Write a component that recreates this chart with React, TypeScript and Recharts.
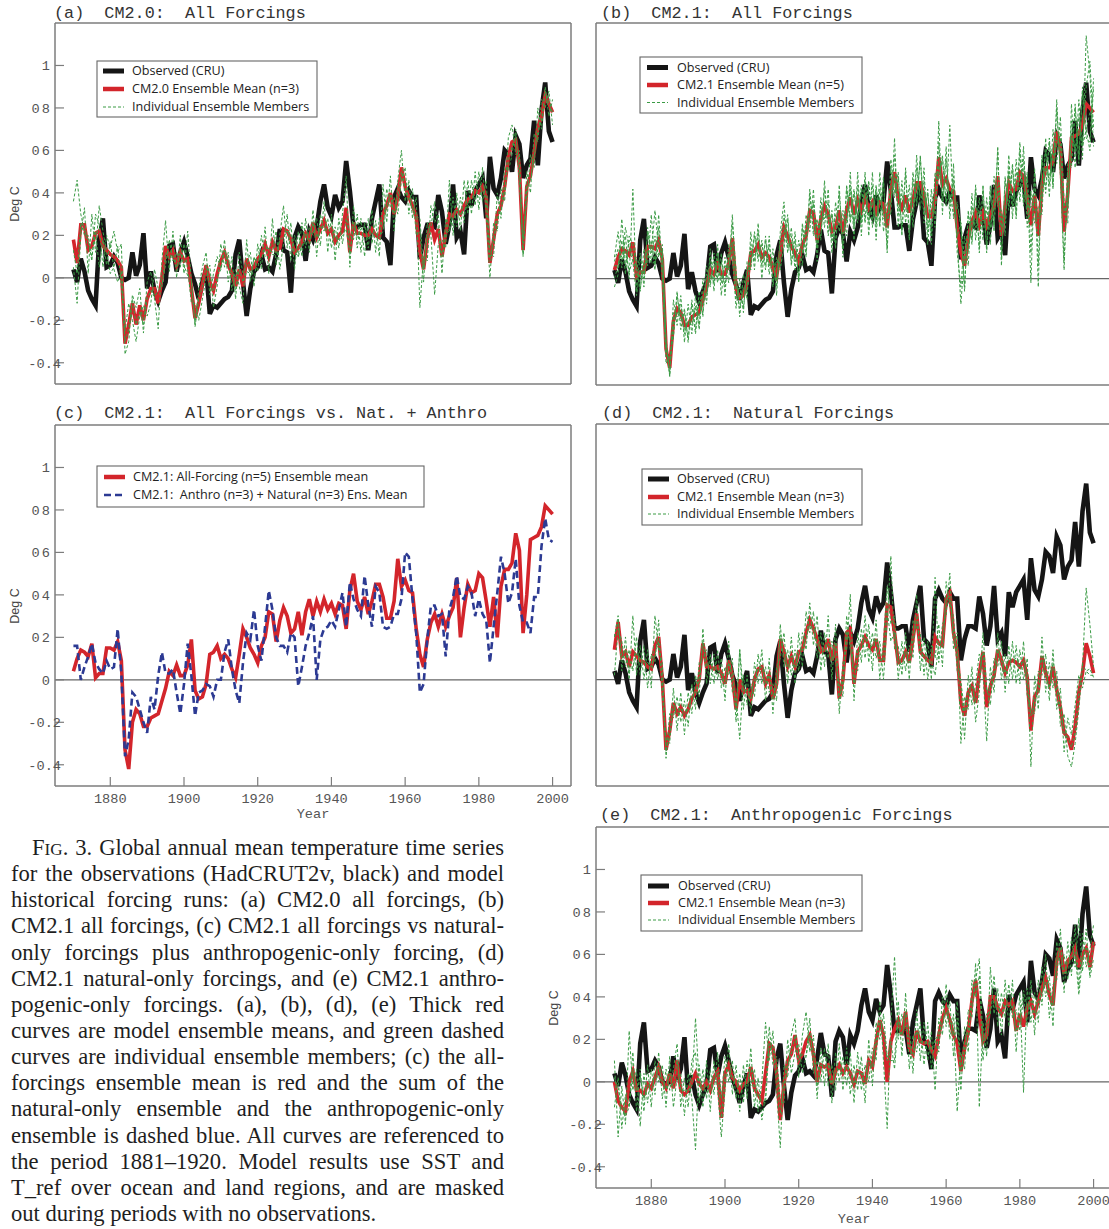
import React from 'react';
import { LineChart, Line, XAxis, YAxis, ReferenceLine } from 'recharts';

// ---------- axes / categories ----------
const START_YEAR = 1870;
const X_DOMAIN: [number, number] = [1865, 2005];
const X_MAJOR = [1880, 1900, 1920, 1940, 1960, 1980, 2000];
const X_MINOR = [1870, 1890, 1910, 1930, 1950, 1970, 1990];
const Y_DOMAIN: [number, number] = [-0.5, 1.2];
const Y_MAJOR = [-0.4, -0.2, 0, 0.2, 0.4, 0.6, 0.8, 1];
const Y_LABELS = ['-0.4', '-0.2', '0', '0 2', '0 4', '0 6', '0 8', '1'];
const Y_MINOR = [-0.3, -0.1, 0.1, 0.3, 0.5, 0.7, 0.9, 1.1];
const Y_ALL = [-0.4, -0.3, -0.2, -0.1, 0, 0.1, 0.2, 0.3, 0.4, 0.5, 0.6, 0.7, 0.8, 0.9, 1, 1.1];

// ---------- series (1870..2000) ----------
const OBS = [
  0.04, -0.02, 0.09, 0.03, -0.06, -0.10, -0.13, 0.18, 0.28, 0.05,
  0.06, 0.10, 0.07, 0.00, -0.01, 0.00, 0.12, 0.01, 0.06, 0.21,
  -0.05, 0.03, -0.06, -0.11, -0.06, -0.02, 0.15, 0.16, 0.03, 0.12,
  0.17, 0.10, 0.02, -0.03, -0.10, -0.02, 0.04, -0.17, -0.13, -0.14,
  -0.12, -0.10, -0.09, -0.06, 0.11, 0.18, -0.02, -0.18, -0.05, 0.03,
  0.05, 0.11, 0.04, 0.05, 0.03, 0.11, 0.23, 0.13, 0.12, -0.07,
  0.19, 0.24, 0.21, 0.08, 0.22, 0.18, 0.24, 0.36, 0.44, 0.33,
  0.29, 0.39, 0.33, 0.36, 0.55, 0.41, 0.24, 0.24, 0.25, 0.25,
  0.13, 0.28, 0.36, 0.44, 0.19, 0.17, 0.06, 0.38, 0.42, 0.38,
  0.36, 0.41, 0.38, 0.38, 0.09, 0.19, 0.25, 0.25, 0.24, 0.39,
  0.31, 0.16, 0.25, 0.44, 0.19, 0.22, 0.11, 0.41, 0.34, 0.41,
  0.44, 0.47, 0.28, 0.57, 0.42, 0.39, 0.47, 0.60, 0.58, 0.50,
  0.67, 0.63, 0.47, 0.53, 0.56, 0.74, 0.53, 0.79, 0.92, 0.69,
  0.64,
];

// (a) CM2.0 all forcings
const A_MEAN = [
  .18, .07, .25, .25, .13, .15, .21, .22, .15, .13,
  .11, .10, .08, .05, -.31, -.22, -.12, -.22, -.13, -.20,
  -.10, -.05, -.05, -.12, .00, .15, .10, .13, .06, .12,
  .08, .09, -.05, -.19, -.12, -.03, .06, -.02, -.06, .02,
  .08, .12, .06, .02, -.04, .04, -.04, .09, .04, .05,
  .09, .11, .16, .10, .17, .13, .14, .23, .22, .18,
  .12, .14, .17, .21, .18, .26, .19, .23, .27, .21,
  .23, .17, .20, .22, .33, .12, .26, .21, .21, .20,
  .20, .23, .20, .19, .30, .34, .40, .30, .38, .52,
  .43, .38, .34, .29, .12, .04, .18, .26, .18, .23,
  .10, .21, .30, .29, .32, .30, .34, .37, .38, .41,
  .40, .43, .38, .07, .18, .30, .34, .43, .57, .64,
  .65, .52, .13, .43, .48, .59, .71, .76, .86, .82,
  .78,
];
const A_M1 = [
  .36, .46, .30, .22, .18, .08, .30, .25, .05, .20,
  .14, .22, .12, .16, -.36, -.30, -.08, -.14, -.05, -.26,
  -.02, .03, -.10, -.24, .08, .27, .03, .22, .00, .20,
  .02, .22, -.02, -.22, -.05, .05, .12, -.08, .02, .10,
  .04, .18, -.02, .10, -.10, .12, .02, .06, .12, -.04,
  .16, .04, .24, .02, .28, .06, .20, .34, .14, .26,
  .04, .22, .10, .28, .12, .32, .10, .30, .22, .28,
  .14, .24, .14, .30, .48, .05, .34, .14, .28, .10,
  .28, .16, .27, .10, .44, .26, .48, .22, .46, .60,
  .36, .46, .28, .38, -.14, .10, .08, .34, .26, .30,
  .02, .28, .22, .38, .24, .38, .26, .46, .30, .50,
  .32, .52, .30, .00, .26, .22, .42, .36, .66, .72,
  .58, .60, .10, .50, .40, .68, .64, .84, .80, .88,
  .72,
];
const A_M2 = [
  .05, -.12, .20, .33, .02, .30, .12, .34, .22, .12,
  .02, .05, .15, -.04, -.25, -.12, -.20, -.30, -.18, -.13,
  -.18, -.12, .04, -.05, -.04, .06, .18, .08, .12, .05,
  .16, .04, -.12, -.12, -.20, -.10, .00, .06, -.14, -.04,
  .16, .05, .12, -.06, .04, -.04, -.12, .18, -.02, .10,
  .03, .20, .10, .14, .12, .22, .04, .16, .30, .08,
  .20, .10, .26, .14, .24, .20, .28, .15, .36, .12,
  .30, .08, .28, .16, .28, .20, .18, .30, .12, .26,
  .14, .32, .12, .28, .24, .42, .33, .38, .30, .46,
  .52, .30, .42, .20, .22, -.02, .26, .20, -.08, .16,
  .18, .14, .46, .20, .40, .22, .46, .30, .46, .34,
  .50, .36, .46, .12, .10, .40, .28, .52, .50, .58,
  .70, .44, .18, .36, .58, .52, .80, .70, .90, .76,
  .84,
];
const A_M3 = [
  .13, .02, .26, .20, .20, .10, .22, .05, .18, .06,
  .17, .04, -.02, .03, -.30, -.24, -.10, -.22, -.16, -.22,
  -.10, -.06, -.09, -.06, -.04, .12, .09, .10, .05, .12,
  .06, .01, -.01, -.23, -.10, -.04, .06, -.04, -.06, .00,
  .04, .13, .08, .02, -.06, .04, -.02, .03, .02, .09,
  .08, .09, .14, .14, .11, .11, .18, .19, .22, .20,
  .12, .10, .15, .21, .18, .26, .19, .24, .23, .23,
  .25, .19, .18, .20, .23, .11, .26, .19, .23, .24,
  .18, .21, .21, .19, .22, .34, .39, .30, .38, .50,
  .41, .38, .32, .29, .28, .04, .20, .24, .36, .23,
  .10, .21, .22, .29, .32, .30, .30, .35, .38, .39,
  .38, .41, .38, .09, .18, .28, .32, .41, .55, .62,
  .67, .52, .11, .43, .46, .57, .69, .74, .88, .82,
  .78,
];

// (b) CM2.1 all forcings (also the red curve of panel c)
const B_MEAN = [
  .04, .10, .14, .13, .11, .17, .01, .03, .03, .15,
  .15, .14, .18, .09, -.33, -.42, -.20, -.14, -.16, -.22,
  -.22, -.18, -.17, -.16, -.10, -.04, .04, .02, .07, .02,
  .02, .07, .19, -.05, -.09, -.08, -.02, .12, .13, .16,
  .10, .12, .10, .05, .01, .12, .24, .20, .15, .12,
  .08, .16, .20, .32, .31, .18, .28, .34, .30, .22,
  .24, .32, .21, .32, .38, .30, .37, .32, .38, .33,
  .36, .31, .36, .35, .24, .42, .50, .37, .33, .39,
  .31, .37, .45, .45, .39, .29, .29, .37, .57, .44,
  .47, .42, .41, .24, .12, .06, .19, .27, .31, .25,
  .31, .25, .30, .34, .48, .20, .34, .45, .41, .42,
  .50, .48, .37, .25, .39, .20, .44, .52, .52, .55,
  .69, .61, .22, .40, .66, .67, .68, .72, .82, .80,
  .78,
];
const B_M1 = [
  .10, .22, .05, .20, .00, .42, -.06, .12, -.04, .24,
  .08, .20, .10, .16, -.28, -.46, -.10, -.22, -.08, -.30,
  -.12, -.26, -.08, -.24, .00, -.12, .14, -.06, .16, -.08,
  .10, -.02, .26, .04, -.18, .02, -.10, .22, .04, .26,
  .00, .20, .02, .14, -.08, .22, .36, .12, .24, .04,
  .18, .06, .30, .22, .42, .08, .38, .24, .42, .12,
  .36, .22, .32, .20, .50, .18, .50, .20, .50, .20,
  .50, .18, .50, .22, .36, .30, .66, .24, .46, .26,
  .44, .24, .58, .32, .52, .16, .42, .24, .74, .30,
  .62, .28, .54, .12, -.04, .20, .06, .40, .18, .38,
  .18, .38, .16, .48, .34, .32, .20, .58, .28, .56,
  .36, .62, .24, .40, .26, .34, .30, .66, .38, .70,
  .54, .76, .36, .26, .82, .52, .84, .56, 1.14, .96,
  .62,
];
const B_M2 = [
  -.04, .02, .28, .06, .18, .10, .10, -.06, .14, .06,
  .30, .06, .24, .00, -.40, -.36, -.28, -.06, -.24, -.14,
  -.30, -.10, -.24, -.06, -.18, .06, -.04, .12, .00, .12,
  -.08, .16, .12, -.14, .00, -.16, .08, .04, .22, .08,
  .18, .04, .20, -.04, .10, .04, .16, .30, .06, .22,
  -.02, .26, .12, .42, .22, .28, .18, .46, .20, .32,
  .14, .44, .10, .44, .28, .42, .26, .44, .28, .46,
  .24, .44, .26, .48, .12, .56, .40, .50, .20, .52,
  .18, .50, .34, .58, .26, .42, .16, .50, .46, .58,
  .34, .72, .28, .36, .24, -.06, .32, .16, .44, .12,
  .44, .12, .42, .22, .62, .06, .48, .32, .54, .30,
  .64, .36, .50, .12, .52, .06, .58, .40, .66, .42,
  .84, .48, .08, .54, .52, .82, .54, .88, .66, .64,
  .94,
];
const B_M3 = [
  .08, .14, .10, .24, .14, .08, -.08, .04, .00, .22,
  .12, .32, .14, .12, -.30, -.44, -.16, -.18, -.12, -.26,
  -.20, -.20, -.14, -.22, -.06, -.08, .10, -.02, .12, .00,
  .06, .04, .30, -.02, -.14, -.04, -.06, .16, .08, .22,
  .06, .18, .06, .10, -.04, .18, .30, .16, .20, .08,
  .12, .12, .26, .28, .36, .14, .34, .28, .36, .18,
  .30, .28, .28, .26, .44, .24, .44, .26, .46, .26,
  .44, .24, .42, .28, .30, .36, .58, .30, .40, .32,
  .38, .30, .52, .38, .46, .22, .36, .30, .64, .36,
  .56, .34, .48, .18, -.12, .12, .14, .34, .24, .32,
  .24, .32, .24, .42, .40, .28, .26, .52, .34, .50,
  .42, .56, .30, .34, .32, .28, .38, .60, .44, .62,
  .62, .68, .30, .34, .74, .60, .76, .64, .90, 1.02,
  .70,
];
const B_M4 = [
  .00, .06, .18, .02, .20, .16, .05, .10, .02, .10,
  .18, .04, .30, .04, -.36, -.38, -.26, -.08, -.20, -.16,
  -.28, -.12, -.26, -.10, -.16, .02, -.02, .08, -.02, .08,
  -.04, .12, .10, -.10, -.04, -.14, .04, .06, .20, .10,
  .16, .06, .16, -.02, .08, .06, .14, .28, .08, .18,
  .00, .24, .10, .40, .20, .26, .20, .42, .22, .30,
  .16, .40, .14, .42, .26, .40, .28, .42, .26, .44,
  .26, .42, .24, .46, .14, .52, .38, .48, .22, .50,
  .20, .46, .36, .56, .30, .40, .20, .48, .48, .56,
  .36, .40, .30, .34, .26, -.04, .30, .18, .42, .14,
  .42, .14, .44, .24, .60, .10, .46, .34, .52, .28,
  .60, .34, .48, -.02, .50, -.04, .56, .42, .64, .44,
  .80, .50, .04, .52, .54, .80, .56, .90, .70, .60,
  .90,
];
const B_M5 = [
  .06, .06, .09, .13, .03, .09, .04, -.05, .08, .13,
  .07, .08, .12, .13, -.31, -.46, -.20, -.16, -.16, -.24,
  -.20, -.22, -.13, -.18, -.10, -.08, .02, -.02, .09, -.02,
  .06, .05, .17, -.03, -.09, -.08, -.06, .12, .11, .14,
  .10, .12, .06, .07, -.01, .10, .24, .14, .17, .08,
  .12, .12, .22, .28, .35, .14, .30, .30, .30, .18,
  .24, .26, .21, .28, .42, .26, .37, .28, .40, .29,
  .36, .27, .38, .31, .28, .36, .48, .33, .37, .35,
  .35, .35, .45, .41, .41, .25, .31, .33, .53, .40,
  .47, .36, .45, .20, .26, .08, .13, .27, .27, .29,
  .27, .29, .24, .34, .44, .24, .30, .49, .37, .46,
  .48, .52, .33, .41, .35, .36, .38, .52, .48, .57,
  .65, .63, .32, .34, .68, .61, .70, .62, .70, .78,
  .74,
];

// (c) Anthro (n=3) + Natural (n=3) ensemble-mean sum
const C_SUM = [
  .16, .16, .00, .06, .11, .17, .08, .05, .03, .09,
  .05, .06, .24, .03, -.36, -.28, -.06, -.08, -.14, -.20,
  -.25, -.08, -.14, .02, .13, .03, .03, .05, -.06, -.16,
  -.02, .17, .02, -.17, -.06, -.05, -.02, -.03, -.08, .00,
  .00, .13, .19, .05, -.05, -.11, .08, .22, .19, .33,
  .16, .09, .25, .42, .33, .20, .16, .16, .13, .22,
  .20, -.03, .06, .16, .22, .30, .00, .19, .24, .25,
  .28, .25, .33, .41, .25, .46, .38, .33, .30, .49,
  .35, .25, .44, .41, .25, .24, .25, .31, .31, .38,
  .60, .58, .38, .22, -.06, -.02, .19, .35, .35, .30,
  .31, .11, .33, .39, .49, .39, .38, .44, .41, .30,
  .38, .31, .28, .08, .25, .41, .58, .50, .36, .41,
  .57, .35, .27, .27, .22, .39, .39, .63, .76, .66,
  .65,
];

// (d) CM2.1 natural forcings
const D_MEAN = [
  .14, .27, .11, .13, .06, .13, .11, .09, .08, .06,
  .05, .16, .20, .00, -.33, -.24, -.11, -.16, -.13, -.17,
  -.14, -.09, -.06, .00, .17, .06, .06, .05, .06, .03,
  -.02, .09, .02, -.14, .00, -.06, -.05, -.09, .00, .05,
  .06, -.02, .02, -.09, -.02, .19, .13, .06, .11, .06,
  .13, .14, .22, .28, .24, .19, .13, .14, .19, .09,
  .17, -.09, .00, .22, .24, -.02, .13, .16, .20, .16,
  .14, .19, .09, .09, .35, .34, .22, .08, .09, .13,
  .08, .19, .31, .13, .11, .09, .08, .20, .17, .16,
  .38, .41, .22, .13, -.11, -.17, -.06, -.03, -.11, .03,
  .13, -.13, -.03, .02, .14, .09, .03, .08, .09, .08,
  .06, .09, .01, -.24, -.08, -.05, .11, .03, -.02, .06,
  -.05, -.13, -.25, -.27, -.33, -.22, -.06, .03, .17, .11,
  .03,
];
const D_M1 = [
  .20, .30, .04, .20, .00, .30, .02, .16, .00, .14,
  -.04, .30, .14, .08, -.37, -.16, -.18, -.08, -.20, -.10,
  -.22, -.02, -.14, .08, .10, .14, -.02, .12, .00, .10,
  -.10, .18, -.06, -.08, -.28, .02, -.12, -.02, -.08, .12,
  -.02, .06, -.06, -.02, -.10, .26, .06, .14, .02, .14,
  .04, .22, .14, .36, .16, .30, .04, .22, .10, .18,
  .08, -.02, -.08, .30, .14, .06, .04, .24, .10, .26,
  .04, .28, .00, .18, .44, .26, .30, .00, .18, .04,
  .16, .10, .40, .04, .20, .00, .16, .10, .26, .06,
  .46, .34, .30, .04, -.02, -.28, .02, -.12, -.02, .12,
  .04, -.29, .06, -.06, .22, .00, .12, -.02, .18, -.02,
  .14, .00, .10, -.41, .02, -.14, .20, -.06, .08, -.04,
  .04, -.22, -.16, -.36, -.41, -.30, -.14, .06, .43, .26,
  .06,
];
const D_M2 = [
  .02, .24, .18, .06, .14, .04, .20, .02, .16, -.04,
  .12, .08, .28, -.08, -.28, -.30, -.04, -.24, -.06, -.26,
  -.06, -.16, .02, -.08, .24, -.02, .12, -.02, .14, -.04,
  .06, .02, .10, -.20, .14, -.14, .02, -.16, .08, -.02,
  .14, -.10, .10, -.16, .06, .10, .22, -.02, .20, -.02,
  .22, .06, .32, .22, .32, .10, .22, .06, .30, .00,
  .26, -.16, .08, .14, .40, -.10, .22, .08, .30, .08,
  .22, .10, .18, .00, .28, .58, .14, .16, .02, .22,
  .00, .28, .24, .22, .02, .18, .00, .48, .08, .26,
  .30, .50, .14, .22, -.30, -.08, -.14, .06, -.20, -.06,
  .22, -.04, -.12, .10, .06, .18, -.06, .16, .00, .16,
  -.02, .18, -.08, -.14, -.16, .04, .02, .12, -.10, .14,
  -.14, -.04, -.34, -.18, -.26, -.12, .02, -.04, .04, .02,
  .02,
];
const D_M3 = [
  .20, .28, .10, .14, .04, .06, .12, .10, .08, .08,
  .06, .12, .18, .00, -.34, -.26, -.12, -.16, -.14, -.16,
  -.14, -.08, -.06, .00, .18, .06, .08, .05, .04, .03,
  -.02, .08, .02, -.14, .14, -.06, -.05, -.09, .00, .05,
  .06, -.02, .02, -.09, -.02, .21, .11, .06, .11, .06,
  .13, .14, .20, .26, .24, .17, .13, .14, .17, .09,
  .17, -.09, .00, .22, .18, -.02, .13, .16, .20, .14,
  .16, .19, .09, .09, .33, .18, .22, .08, .07, .13,
  .08, .19, .29, .13, .11, .09, .08, .02, .17, .16,
  .38, .39, .22, .13, -.01, -.15, -.06, -.03, -.11, .03,
  .13, -.06, -.03, .02, .14, .09, .03, .10, .09, .10,
  .06, .09, .01, -.17, -.10, -.05, .11, .03, -.04, .08,
  -.05, -.13, -.25, -.27, -.32, -.24, -.06, .07, .04, .05,
  .01,
];

// (e) CM2.1 anthropogenic forcings
const E_MEAN = [
  .00, -.09, -.12, -.14, .00, .05, -.04, -.04, -.06, -.01,
  -.03, .02, .07, .00, -.03, .04, -.03, .10, -.04, -.06,
  -.04, .00, .04, -.01, -.03, .00, -.04, .02, .05, -.17,
  .04, .08, .02, .00, -.04, -.01, .00, .07, -.03, -.06,
  -.09, .04, .18, .16, .04, -.18, -.01, .10, .13, .22,
  .10, .13, .19, .22, .13, .00, .08, .07, .08, -.01,
  .05, .08, .04, .07, .04, -.01, .05, .04, -.01, .10,
  .07, .19, .29, .22, .00, .19, .25, .29, .22, .33,
  .16, .13, .24, .19, .18, .19, .15, .12, .22, .30,
  .35, .29, .22, .18, .05, .16, .24, .38, .48, .32,
  .19, .22, .40, .40, .35, .32, .38, .36, .38, .24,
  .32, .26, .35, .38, .32, .38, .44, .49, .41, .36,
  .57, .63, .51, .57, .59, .63, .54, .60, .63, .54,
  .66,
];
const E_M1 = [
  .10, -.26, -.02, -.20, .24, -.04, .06, -.21, .04, -.10,
  .06, -.06, .14, -.08, .06, -.04, .06, .18, -.12, .02,
  -.12, .10, .14, -.10, .06, -.08, .06, -.06, .14, -.08,
  .12, .00, .10, -.08, .04, -.10, .10, -.02, .06, -.14,
  .00, .28, .10, .24, -.04, -.31, .08, .02, .22, .30,
  .02, .22, .33, .14, .22, -.08, .16, -.02, .18, -.10,
  .14, .00, .12, -.02, .14, -.10, .14, -.04, .08, .00,
  .16, .10, .38, .10, -.22, .28, .59, .20, .32, .24,
  .26, .04, .34, .10, .28, .10, .24, -.04, .30, .22,
  .46, .20, .32, -.14, .14, .06, .34, .30, .56, -.12,
  .28, .12, .54, .32, .44, .22, .48, .26, .48, .14,
  .42, -.05, .44, .28, .42, .28, .54, .40, .50, .26,
  .66, .54, .60, .48, .68, .54, .77, .52, .72, .49,
  .58,
];
const E_M2 = [
  -.12, .02, -.22, -.06, -.12, .14, -.14, .06, -.14, .08,
  -.12, .10, .00, .08, -.12, .12, -.12, .02, .04, -.16,
  .04, -.08, -.32, .08, -.12, .10, -.14, .10, -.04, -.26,
  -.04, .18, -.06, .08, -.14, .08, -.08, .16, -.12, .02,
  -.18, -.06, .26, .08, .12, -.08, -.10, .20, .04, .14,
  .18, .04, .12, .30, .04, .10, .00, .16, -.02, .08,
  -.04, .18, -.04, .16, -.06, .08, -.04, .12, -.10, .20,
  -.02, .28, .20, .32, .12, .10, .10, .38, .12, .42,
  .06, .22, .14, .28, .08, .28, .06, .20, .14, .40,
  .26, .38, .12, .30, -.04, .26, .14, .48, .40, .50,
  .10, .32, .32, .50, .26, .42, .30, .46, .30, .34,
  .24, .40, .26, .48, .22, .48, .36, .60, .30, .46,
  .48, .72, .42, .66, .50, .74, .44, .70, .54, .62,
  .74,
];
const E_M3 = [
  .02, -.03, -.12, -.16, -.12, .05, -.04, .03, -.08, -.01,
  -.03, .02, .07, .00, -.03, .04, -.03, .10, -.04, -.04,
  -.04, -.02, .30, -.01, -.03, -.02, -.04, .02, .05, -.17,
  .04, .06, .02, .00, -.02, -.01, -.02, .07, -.03, -.06,
  -.09, -.10, .18, .16, .04, -.15, -.01, .08, .13, .22,
  .10, .13, .12, .22, .13, -.02, .08, .07, .08, -.01,
  .05, .06, .04, .07, .04, -.01, .05, .04, -.01, .10,
  .07, .19, .29, .24, .10, .19, .06, .29, .22, .33,
  .16, .13, .24, .19, .18, .19, .15, .20, .22, .28,
  .33, .29, .22, .38, .05, .16, .24, .36, .48, .58,
  .19, .22, .34, .38, .35, .32, .36, .36, .36, .24,
  .30, .43, .35, .38, .32, .38, .42, .47, .43, .36,
  .57, .63, .51, .57, .59, .61, .41, .58, .63, .51,
  .66,
];

// ---------- styling ----------
const MONO = "'Liberation Mono', 'DejaVu Sans Mono', monospace";
const LEG_FONT = "'Open Sans', 'Noto Sans', sans-serif";
const SANS = "'Liberation Sans', Arial, sans-serif";
const SERIF = "'Liberation Serif', 'Times New Roman', serif";
const FRAME = '#7d7d7d';
const C_OBS = '#151515';
const C_RED = '#d3252b';
const C_GREEN = '#3b9b45';
const C_BLUE = '#2c3a93';

type Series = { key: string; values: number[]; kind: 'obs' | 'mean' | 'member' | 'blue' };

function buildRows(series: Series[]) {
  return OBS.map((_, i) => {
    const r: Record<string, number> = { year: START_YEAR + i };
    series.forEach((s) => {
      r[s.key] = s.values[i];
    });
    return r;
  });
}

const lineStyle = (kind: Series['kind']) => {
  switch (kind) {
    case 'obs':
      return { stroke: C_OBS, strokeWidth: 4.6 };
    case 'mean':
      return { stroke: C_RED, strokeWidth: 3.6 };
    case 'blue':
      return { stroke: C_BLUE, strokeWidth: 2.6, strokeDasharray: '7 4' };
    default:
      return { stroke: C_GREEN, strokeWidth: 1, strokeDasharray: '3 2' };
  }
};

type PanelCfg = {
  left: number;
  top: number;
  width: number;
  height: number;
  margin: { top: number; right: number; bottom: number; left: number };
  series: Series[];
  yLabels: boolean;
  xLabels: boolean;
};

const members = (prefix: string, arrs: number[][]): Series[] =>
  arrs.map((v, i) => ({ key: `${prefix}${i + 1}`, values: v, kind: 'member' as const }));

const PANELS: PanelCfg[] = [
  {
    left: 0, top: 0, width: 590, height: 400,
    margin: { top: 23, left: 55, right: 19, bottom: 16 },
    series: [
      { key: 'obs', values: OBS, kind: 'obs' },
      { key: 'mean', values: A_MEAN, kind: 'mean' },
      ...members('m', [A_M1, A_M2, A_M3]),
    ],
    yLabels: true, xLabels: false,
  },
  {
    left: 580, top: 0, width: 540, height: 400,
    margin: { top: 23, left: 16, right: 8, bottom: 15 },
    series: [
      { key: 'obs', values: OBS, kind: 'obs' },
      { key: 'mean', values: B_MEAN, kind: 'mean' },
      ...members('m', [B_M1, B_M2, B_M3, B_M4, B_M5]),
    ],
    yLabels: false, xLabels: false,
  },
  {
    left: 0, top: 400, width: 590, height: 420,
    margin: { top: 25, left: 55, right: 19, bottom: 34 },
    series: [
      { key: 'mean', values: B_MEAN, kind: 'mean' },
      { key: 'sum', values: C_SUM, kind: 'blue' },
    ],
    yLabels: true, xLabels: true,
  },
  {
    left: 580, top: 400, width: 540, height: 420,
    margin: { top: 24, left: 16, right: 8, bottom: 34 },
    series: [
      { key: 'obs', values: OBS, kind: 'obs' },
      { key: 'mean', values: D_MEAN, kind: 'mean' },
      ...members('m', [D_M1, D_M2, D_M3]),
    ],
    yLabels: false, xLabels: false,
  },
  {
    left: 500, top: 805, width: 620, height: 424,
    margin: { top: 22, left: 96, right: 8, bottom: 41 },
    series: [
      { key: 'obs', values: OBS, kind: 'obs' },
      { key: 'mean', values: E_MEAN, kind: 'mean' },
      ...members('m', [E_M1, E_M2, E_M3]),
    ],
    yLabels: true, xLabels: true,
  },
];

const makeYTick = (right: number) => (p: any) => {
  const v = Number(p?.payload?.value);
  const i = Y_MAJOR.findIndex((t) => Math.abs(t - v) < 1e-6);
  if (i < 0) return <g />;
  return (
    <text
      x={v < 0 ? right + 11 : right}
      y={p.y}
      dy="0.36em"
      textAnchor="end"
      fontFamily={MONO}
      fontSize={13.6}
      fill="#555"
      style={{ wordSpacing: '-6px' }}
    >
      {Y_LABELS[i]}
    </text>
  );
};

const makeXTick = (yPos: number) => (p: any) => (
  <text x={p.x} y={yPos} dy="0.36em" textAnchor="middle" fontFamily={MONO} fontSize={13.6} fill="#555">
    {String(p?.payload?.value)}
  </text>
);

function Panel({ cfg }: { cfg: PanelCfg }) {
  const { left, top, width, height, margin, series } = cfg;
  const data = buildRows(series);
  const plotBottom = height - margin.bottom;
  const majorLen = cfg.yLabels ? 9 : 5;
  const axisLine = { stroke: FRAME, strokeWidth: 1.5 };
  const tickLine = { stroke: FRAME, strokeWidth: 1.2 };
  const order = [
    ...series.filter((s) => s.kind === 'obs'),
    ...series.filter((s) => s.kind === 'mean'),
    ...series.filter((s) => s.kind === 'member' || s.kind === 'blue'),
  ];
  return (
    <div style={{ position: 'absolute', left, top, width, height }}>
      <LineChart width={width} height={height} data={data} margin={margin}>
        <XAxis xAxisId="b" orientation="bottom" mirror type="number" dataKey="year" domain={X_DOMAIN} ticks={X_MAJOR} interval={0} height={1} tickSize={9} stroke={FRAME} axisLine={axisLine} tickLine={tickLine} tick={cfg.xLabels ? makeXTick(plotBottom + 12) : false} allowDataOverflow />
        <XAxis xAxisId="bm" orientation="bottom" mirror type="number" dataKey="year" domain={X_DOMAIN} ticks={X_MINOR} interval={0} height={1} tickSize={4} stroke={FRAME} axisLine={false} tickLine={tickLine} tick={false} allowDataOverflow />
        <XAxis xAxisId="t" orientation="top" mirror type="number" dataKey="year" domain={X_DOMAIN} ticks={X_MAJOR} interval={0} height={1} tickSize={9} stroke={FRAME} axisLine={axisLine} tickLine={tickLine} tick={false} allowDataOverflow />
        <XAxis xAxisId="tm" orientation="top" mirror type="number" dataKey="year" domain={X_DOMAIN} ticks={X_MINOR} interval={0} height={1} tickSize={4} stroke={FRAME} axisLine={false} tickLine={tickLine} tick={false} allowDataOverflow />
        <YAxis yAxisId="l" orientation="left" mirror type="number" domain={Y_DOMAIN} ticks={Y_MAJOR} interval={0} width={1} tickSize={majorLen} stroke={FRAME} axisLine={axisLine} tickLine={tickLine} tick={cfg.yLabels ? makeYTick(margin.left - 5) : false} allowDataOverflow />
        <YAxis yAxisId="lm" orientation="left" mirror type="number" domain={Y_DOMAIN} ticks={Y_MINOR} interval={0} width={1} tickSize={5} stroke={FRAME} axisLine={false} tickLine={tickLine} tick={false} allowDataOverflow />
        <YAxis yAxisId="r" orientation="right" mirror type="number" domain={Y_DOMAIN} ticks={Y_ALL} interval={0} width={1} tickSize={5} stroke={FRAME} axisLine={axisLine} tickLine={tickLine} tick={false} allowDataOverflow />
        <ReferenceLine xAxisId="b" yAxisId="l" y={0} stroke="#666" strokeWidth={1.2} />
        {order.map((s) => (
          <Line
            key={s.key}
            xAxisId="b"
            yAxisId="l"
            type="linear"
            dataKey={s.key}
            dot={false}
            activeDot={false}
            isAnimationActive={false}
            {...lineStyle(s.kind)}
          />
        ))}
      </LineChart>
    </div>
  );
}

// ---------- overlay texts ----------
const TITLES = [
  { x: 54, y: 18, text: '(a)  CM2.0:  All Forcings' },
  { x: 601, y: 18, text: '(b)  CM2.1:  All Forcings' },
  { x: 54, y: 418, text: '(c)  CM2.1:  All Forcings vs. Nat. + Anthro' },
  { x: 602, y: 418, text: '(d)  CM2.1:  Natural Forcings' },
  { x: 600, y: 820, text: '(e)  CM2.1:  Anthropogenic Forcings' },
];
const YTITLES = [
  { x: 15, y: 204 },
  { x: 15, y: 606 },
  { x: 554, y: 1008 },
];
const XTITLES = [
  { x: 313, y: 813 },
  { x: 854, y: 1218 },
];

type LegItem = { kind: Series['kind']; label: string };
const LEG_STD = (model: string, n: number): LegItem[] => [
  { kind: 'obs', label: 'Observed (CRU)' },
  { kind: 'mean', label: `${model} Ensemble Mean (n=${n})` },
  { kind: 'member', label: 'Individual Ensemble Members' },
];
const LEGENDS = [
  { x: 97, y: 61, w: 220, h: 56, rows: [71, 89, 107], sx: 103, tx: 132, items: LEG_STD('CM2.0', 3) },
  { x: 640, y: 57, w: 222, h: 56, rows: [67.5, 85, 102.5], sx: 647, tx: 677, items: LEG_STD('CM2.1', 5) },
  {
    x: 97, y: 466, w: 327, h: 41, rows: [477, 495], sx: 104, tx: 133,
    items: [
      { kind: 'mean', label: 'CM2.1: All-Forcing (n=5) Ensemble mean' },
      { kind: 'blue', label: 'CM2.1:  Anthro (n=3) + Natural (n=3) Ens. Mean' },
    ] as LegItem[],
  },
  { x: 642, y: 469, w: 220, h: 56, rows: [479, 497, 514], sx: 648, tx: 677, items: LEG_STD('CM2.1', 3) },
  { x: 641, y: 875, w: 221, h: 56, rows: [886, 903, 920], sx: 648, tx: 678, items: LEG_STD('CM2.1', 3) },
];

const legendSample = (kind: Series['kind']) => {
  switch (kind) {
    case 'obs':
      return { stroke: C_OBS, strokeWidth: 5 };
    case 'mean':
      return { stroke: C_RED, strokeWidth: 4.5 };
    case 'blue':
      return { stroke: C_BLUE, strokeWidth: 2.4, strokeDasharray: '7 4' };
    default:
      return { stroke: C_GREEN, strokeWidth: 1, strokeDasharray: '3 2' };
  }
};

const CAPTION = [
  'Global annual mean temperature time series',
  'for the observations (HadCRUT2v, black) and model',
  'historical forcing runs: (a) CM2.0 all forcings, (b)',
  'CM2.1 all forcings, (c) CM2.1 all forcings vs natural-',
  'only forcings plus anthropogenic-only forcing, (d)',
  'CM2.1 natural-only forcings, and (e) CM2.1 anthro-',
  'pogenic-only forcings. (a), (b), (d), (e) Thick red',
  'curves are model ensemble means, and green dashed',
  'curves are individual ensemble members; (c) the all-',
  'forcings ensemble mean is red and the sum of the',
  'natural-only ensemble and the anthropogenic-only',
  'ensemble is dashed blue. All curves are referenced to',
  'the period 1881–1920. Model results use SST and',
  'T_ref over ocean and land regions, and are masked',
  'out during periods with no observations.',
];

function Caption() {
  return (
    <div
      style={{
        position: 'absolute',
        left: 11,
        top: 835,
        width: 493,
        fontFamily: SERIF,
        fontSize: 22.6,
        lineHeight: '26.15px',
        color: '#1e1e1e',
      }}
    >
      {CAPTION.map((line, i) => {
        const last = i === CAPTION.length - 1;
        return (
          <div
            key={i}
            style={{
              whiteSpace: 'nowrap',
              textAlign: last ? 'left' : 'justify',
              textAlignLast: last ? 'left' : 'justify',
              paddingLeft: i === 0 ? 21 : 0,
              height: 26.15,
            }}
          >
            {i === 0 ? (
              <>
                F<span style={{ fontSize: '0.76em' }}>IG</span>. 3. {line}
              </>
            ) : (
              line
            )}
          </div>
        );
      })}
    </div>
  );
}

function Overlay() {
  return (
    <svg width={1109} height={1229} style={{ position: 'absolute', left: 0, top: 0, pointerEvents: 'none' }}>
      {TITLES.map((t, i) => (
        <text key={i} x={t.x} y={t.y} fontFamily={MONO} fontSize={16.8} fill="#333" xmlSpace="preserve" style={{ whiteSpace: 'pre' }}>
          {t.text}
        </text>
      ))}
      {YTITLES.map((t, i) => (
        <text key={i} x={t.x} y={t.y} transform={`rotate(-90 ${t.x} ${t.y})`} textAnchor="middle" dy="0.35em" fontFamily={SANS} fontSize={12.5} fill="#444">
          Deg C
        </text>
      ))}
      {XTITLES.map((t, i) => (
        <text key={i} x={t.x} y={t.y} textAnchor="middle" dy="0.36em" fontFamily={MONO} fontSize={13.6} fill="#555">
          Year
        </text>
      ))}
      {LEGENDS.map((L, i) => (
        <g key={i}>
          <rect x={L.x} y={L.y} width={L.w} height={L.h} fill="#fff" stroke="#666" strokeWidth={1.1} />
          {L.items.map((it, j) => (
            <g key={j}>
              <line x1={L.sx} x2={L.sx + 21} y1={L.rows[j]} y2={L.rows[j]} {...legendSample(it.kind)} />
              <text x={L.tx} y={L.rows[j]} dy="0.35em" fontFamily={LEG_FONT} fontSize={12.6} fill="#222" xmlSpace="preserve" style={{ whiteSpace: 'pre' }}>
                {it.label}
              </text>
            </g>
          ))}
        </g>
      ))}
    </svg>
  );
}

export default function App() {
  return (
    <div style={{ position: 'absolute', left: 0, top: 0, width: 1109, height: 1229, overflow: 'hidden', background: '#fff' }}>
      {PANELS.map((p, i) => (
        <Panel key={i} cfg={p} />
      ))}
      <Overlay />
      <Caption />
    </div>
  );
}
